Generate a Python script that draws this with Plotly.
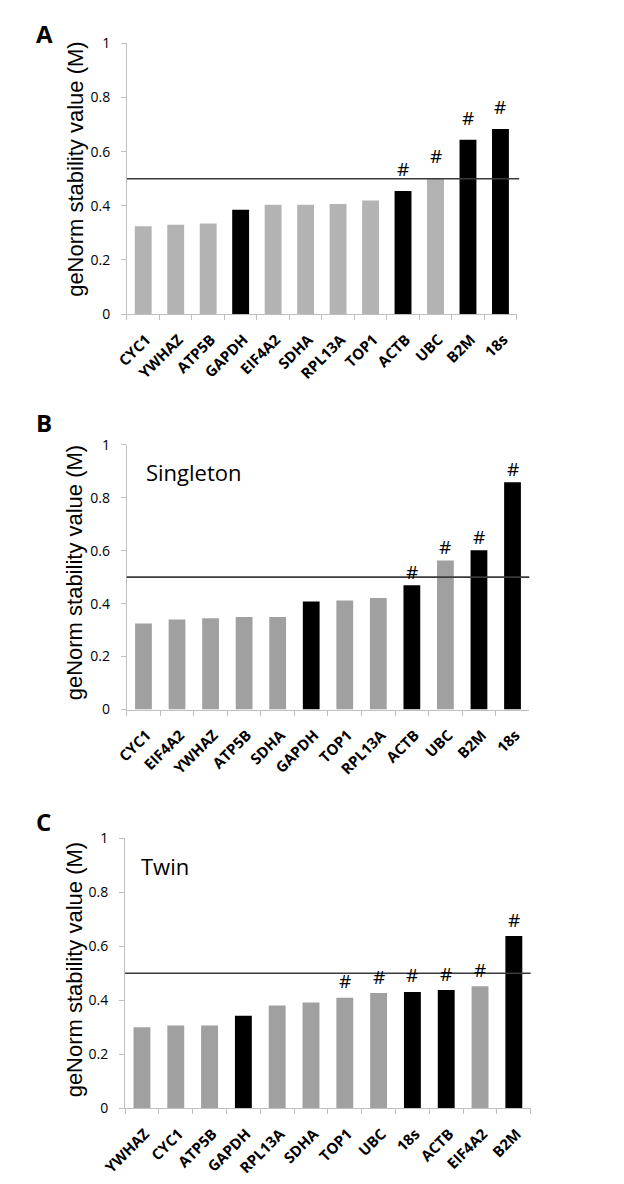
import plotly.graph_objects as go

# ---------------- data ----------------
genes_a = ["CYC1", "YWHAZ", "ATP5B", "GAPDH", "EIF4A2", "SDHA", "RPL13A", "TOP1", "ACTB", "UBC", "B2M", "18s"]
vals_a = [0.324, 0.330, 0.335, 0.385, 0.404, 0.404, 0.407, 0.420, 0.455, 0.503, 0.644, 0.684]
black_a = ["GAPDH", "ACTB", "B2M", "18s"]
hash_a = ["ACTB", "UBC", "B2M", "18s"]

genes_b = ["CYC1", "EIF4A2", "YWHAZ", "ATP5B", "SDHA", "GAPDH", "TOP1", "RPL13A", "ACTB", "UBC", "B2M", "18s"]
vals_b = [0.325, 0.340, 0.345, 0.349, 0.349, 0.408, 0.412, 0.421, 0.469, 0.563, 0.601, 0.858]
black_b = ["GAPDH", "ACTB", "B2M", "18s"]
hash_b = ["ACTB", "UBC", "B2M", "18s"]

genes_c = ["YWHAZ", "CYC1", "ATP5B", "GAPDH", "RPL13A", "SDHA", "TOP1", "UBC", "18s", "ACTB", "EIF4A2", "B2M"]
vals_c = [0.300, 0.307, 0.307, 0.343, 0.381, 0.392, 0.409, 0.427, 0.431, 0.438, 0.452, 0.638]
black_c = ["GAPDH", "18s", "ACTB", "B2M"]
hash_c = ["TOP1", "UBC", "18s", "ACTB", "EIF4A2", "B2M"]

threshold = 0.5
y_ticks = [0, 0.2, 0.4, 0.6, 0.8, 1]
y_ticktext = ["0", "0.2", "0.4", "0.6", "0.8", "1"]
y_title = "geNorm stability value (M)"

W, H = 624, 1184

panels = [
    dict(letter="A", genes=genes_a, vals=vals_a, black=black_a, hashes=hash_a, gray="#b3b3b3",
         label=None, xpx=[107.1, 512.4], ypx=[34, 309], line_x1=1.0064, hash_shift=22,
         title_px=(53.5, 161), letter_py=24, bw=0.52),
    dict(letter="B", genes=genes_b, vals=vals_b, black=black_b, hashes=hash_b, gray="#a0a0a0",
         label="Singleton", xpx=[106.8, 525.5], ypx=[441.7, 711], line_x1=1.0, hash_shift=13,
         title_px=(52, 571.5), letter_py=419, label_px=(125, 470), bw=0.5),
    dict(letter="C", genes=genes_c, vals=vals_c, black=black_c, hashes=hash_c, gray="#a0a0a0",
         label="Twin", xpx=[105.1, 527.0], ypx=[841.7, 1116.3], line_x1=1.0, hash_shift=16.5,
         title_px=(52, 975), letter_py=825, label_px=(120, 870), bw=0.5),
]

fig = go.Figure()
annotations = []
shapes = []
layout_axes = {}

for i, p in enumerate(panels):
    n = "" if i == 0 else str(i + 1)
    xa, ya = "x" + n, "y" + n
    colors = ["#000000" if g in p["black"] else p["gray"] for g in p["genes"]]
    fig.add_trace(go.Bar(x=p["genes"], y=p["vals"], marker=dict(color=colors, line=dict(width=0)),
                         xaxis=xa, yaxis=ya, showlegend=False, width=p["bw"]))
    layout_axes["xaxis" + n] = dict(
        domain=[p["xpx"][0] / W, p["xpx"][1] / W], anchor=ya, type="category", range=[-0.5, 11.5],
        showline=True, linecolor="#bfbfbf", linewidth=1, showgrid=False, zeroline=False,
        ticks="outside", tickson="boundaries", ticklen=5, tickcolor="#bfbfbf", tickwidth=1,
        tickangle=-45, ticklabelstandoff=10, ticklabelshift=3,
        tickfont=dict(family="Open Sans", size=15, weight="bold", color="#000000"),
    )
    layout_axes["yaxis" + n] = dict(
        domain=[1 - p["ypx"][1] / H, 1 - p["ypx"][0] / H], anchor=xa, range=[0, 1],
        tickvals=y_ticks, ticktext=y_ticktext,
        showline=True, linecolor="#bfbfbf", linewidth=1, showgrid=False, zeroline=False,
        ticks="outside", ticklen=5, tickcolor="#bfbfbf", tickwidth=1, ticklabelstandoff=8,
        tickfont=dict(family="Open Sans", size=14, color="#000000"),
    )
    shapes.append(dict(type="line", xref=xa + " domain", yref=ya, x0=0, x1=p["line_x1"],
                       y0=threshold, y1=threshold, line=dict(color="#3a3a3a", width=1.6)))
    for g, v in zip(p["genes"], p["vals"]):
        if g in p["hashes"]:
            annotations.append(dict(x=g, y=v, xref=xa, yref=ya, text="#", showarrow=False,
                                    yanchor="middle", xanchor="center", yshift=p["hash_shift"],
                                    font=dict(family="Open Sans", size=19, color="#000000")))
    annotations.append(dict(x=p["title_px"][0] / W, y=1 - p["title_px"][1] / H, xref="paper", yref="paper",
                            text=y_title, textangle=-90, showarrow=False,
                            xanchor="center", yanchor="middle",
                            font=dict(family="Liberation Sans", size=22, color="#000000")))
    annotations.append(dict(x=10 / W, y=1 - p["letter_py"] / H, xref="paper", yref="paper",
                            text="<b>" + p["letter"] + "</b>", showarrow=False,
                            xanchor="left", yanchor="middle",
                            font=dict(family="Open Sans", size=24, color="#000000")))
    if p["label"]:
        annotations.append(dict(x=p["label_px"][0] / W, y=1 - p["label_px"][1] / H, xref="paper", yref="paper",
                                text=p["label"], showarrow=False, xanchor="left", yanchor="middle",
                                font=dict(family="Open Sans", size=22, color="#000000")))

fig.update_layout(
    width=W, height=H, margin=dict(l=0, r=0, t=0, b=0),
    paper_bgcolor="white", plot_bgcolor="white",
    annotations=annotations, shapes=shapes, **layout_axes,
)

fig.write_html("out.html")
